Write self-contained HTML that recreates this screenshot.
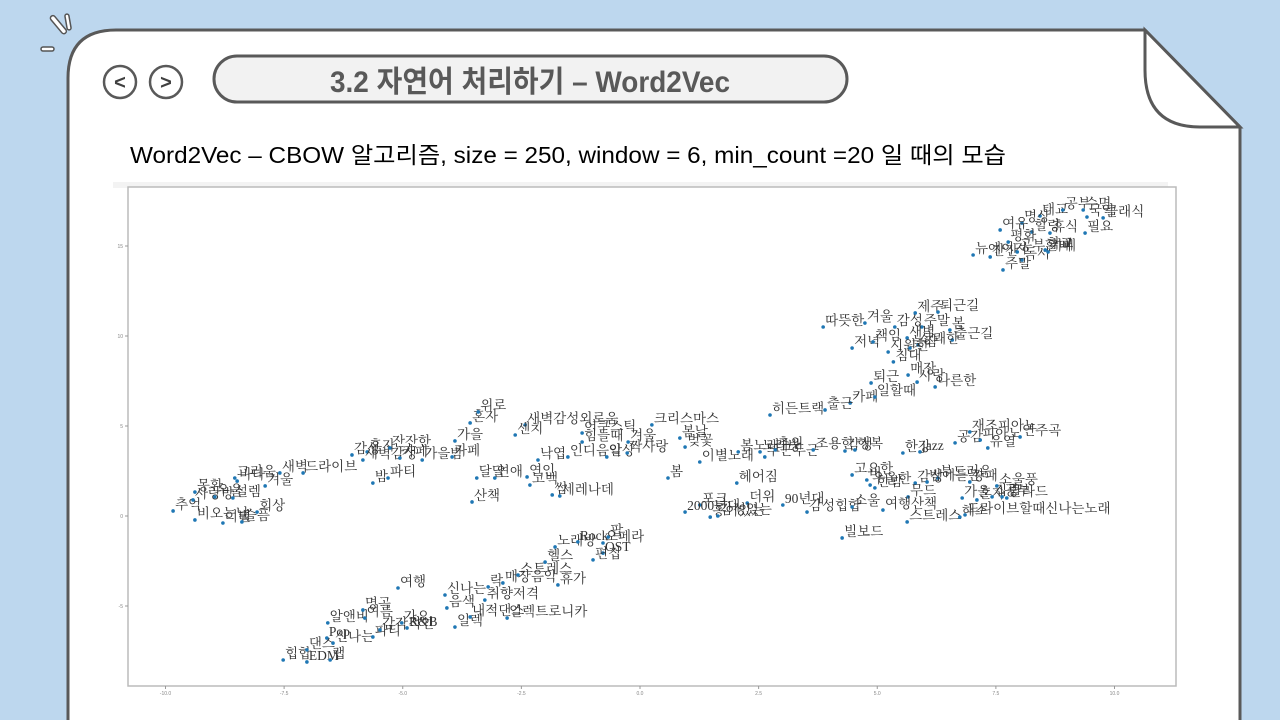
<!DOCTYPE html>
<html><head><meta charset="utf-8"><style>
html,body{margin:0;padding:0;background:#bdd7ee;}
svg{display:block;}
</style></head><body>
<svg id="slide" width="1280" height="720" viewBox="0 0 1280 720" xmlns="http://www.w3.org/2000/svg">
  <rect x="0" y="0" width="1280" height="720" fill="#bdd7ee"/>
  <g fill="#fff" stroke="#555" stroke-width="1.5">
    <rect x="56" y="14" width="5" height="22" rx="2.5" transform="rotate(-40 58 25)"/>
    <rect x="66" y="14" width="4" height="16" rx="2" transform="rotate(-10 68 22)"/>
    <rect x="41" y="47" width="13" height="4" rx="2"/>
  </g>
  <path d="M68,730 L68,78 Q68,30 116,30 L1145,30 L1240,127 L1240,730 Z" fill="#fff" stroke="#595959" stroke-width="3"/>
  <path d="M1145,30 L1145,70 Q1145,127 1200,127 L1240,127 Z" fill="#fff" stroke="#595959" stroke-width="3"/>
  <g>
    <circle cx="120" cy="82" r="16" fill="#fff" stroke="#595959" stroke-width="2.5"/>
    <text x="120" y="89" text-anchor="middle" font-family="Liberation Sans, sans-serif" font-size="20" font-weight="bold" fill="#404040">&lt;</text>
  </g>
  <g>
    <circle cx="166" cy="82" r="16" fill="#fff" stroke="#595959" stroke-width="2.5"/>
    <text x="166" y="89" text-anchor="middle" font-family="Liberation Sans, sans-serif" font-size="20" font-weight="bold" fill="#404040">&gt;</text>
  </g>
  <rect x="214" y="56" width="633" height="46" rx="23" fill="#f2f2f2" stroke="#595959" stroke-width="3"/>
  <text x="330" y="92" textLength="400" lengthAdjust="spacingAndGlyphs" font-family="Liberation Sans, 'Noto Sans CJK KR', sans-serif" font-size="30" font-weight="bold" fill="#595959">3.2 자연어 처리하기 – Word2Vec</text>
  <text x="130" y="163" textLength="876" lengthAdjust="spacingAndGlyphs" font-family="Liberation Sans, 'Noto Sans CJK KR', sans-serif" font-size="23" fill="#000">Word2Vec – CBOW 알고리즘, size = 250, window = 6, min_count =20 일 때의 모습</text>
  <rect x="113" y="182" width="1055" height="6" fill="#f3f3f3"/>
  <rect x="128" y="187" width="1048" height="499" fill="#fff" stroke="#bbb" stroke-width="1.5"/>
  <g id="axes"></g>
  <g id="marks"></g>
</svg>
<script>
const words = ["태교","공부","수면","명상","국악","클래식","여유","힐링","휴식","필요","평화","뉴에이지","잔잔","공부할때","독서","학교","카페","주말",
"따뜻한","겨울","감성","제주","퇴근길","주말","봄","출근길","저녁","책임","새벽","상쾌한","시원한","침대","늦잠","매장","사랑","퇴근","나른한","카페","일할때","출근","히든트랙",
"추억","몽환","사랑방","비오는날","우울","설렘","이별","슬픔","회상","그리움","바다","겨울","새벽","드라이브","감성","혼자","새벽감성","잔잔한","카페","가을밤","밤","파티",
"혼자","위로","새벽감성외로움","센치","가을","카페","달달","연애","연인","고백","산책","낙엽","인디음악","어쿠스틱","힘들때","일상","짝사랑","겨울","크리스마스","봄날","벚꽃","이별노래","봄","썸","세레나데",
"봄노래","헤어짐","두근두근","노래방","추위","조용한","감성","행복","한강","jazz","공감","재즈피아노","피아노","유열","연주곡",
"고요한","비","우울한","한밤","감성","부드러운","깡패","밤에듣는","무드","가을","혼자","집중","공부","발라드","소울풍",
"더위","90년대","감성힙합","소울","여행산책","스트레스","해소","드라이브할때신나는노래","빌보드","포크","2000년대","흥이있는","감성있는",
"힙합","EDM","랩","댄스","신나는","Pop","파티","알앤비","여름","명곡","가요","R&B","감각적인","여행","신나는","음색","일렉","내적댄스","락","매장음악","취향저격","일렉트로니카","헬스","스트레스","휴가","노래방","Rock","팝","오페라","OST","편집"];
const xs = [8.43,8.91,9.34,8.05,9.42,9.76,7.59,8.26,8.64,9.38,7.76,7.02,7.38,7.95,8.05,8.54,8.6,7.65,
3.86,4.74,5.37,5.80,6.28,5.94,6.53,6.58,4.47,4.91,5.63,5.86,5.23,5.34,5.69,5.65,5.84,4.87,6.22,4.43,4.95,3.90,2.74,
-9.84,-9.38,-9.42,-9.38,-8.96,-8.58,-8.79,-8.39,-8.07,-8.54,-8.49,-7.90,-7.59,-7.10,-6.07,-5.75,-5.84,-5.27,-5.06,-4.59,-5.63,-5.31,
-3.58,-3.41,-2.42,-2.63,-3.90,-3.96,-3.44,-3.06,-2.38,-2.32,-3.54,-2.15,-1.52,-1.22,-1.22,-0.70,-0.27,-0.25,0.25,0.84,0.95,1.26,0.59,-1.85,-1.69,
2.07,2.04,2.63,2.53,2.85,3.65,4.32,4.53,5.54,5.90,6.64,6.95,7.17,7.33,8.01,
4.47,4.78,4.85,4.95,5.80,6.28,6.95,6.05,5.65,6.79,7.10,7.42,7.63,7.73,7.52,
2.26,3.01,3.52,4.47,5.12,5.63,6.74,6.85,4.26,1.26,0.95,1.48,1.64,
-7.52,-7.02,-6.53,-7.02,-6.47,-6.60,-5.63,-6.58,-5.80,-5.84,-5.02,-4.91,-5.48,-5.10,-4.11,-4.07,-3.90,-3.58,-3.20,-2.89,-3.27,-2.80,-2.0,-2.57,-1.73,-1.79,-1.31,-0.67,-0.78,-0.78,-0.99];
const ys = [16.67,17.0,17.0,16.28,16.61,16.56,15.89,15.78,15.72,15.72,15.22,14.5,14.39,14.67,14.22,14.78,14.67,13.67,
10.5,10.72,10.5,11.28,11.33,10.5,10.33,9.78,9.33,9.67,9.89,9.5,9.11,8.56,9.33,7.83,7.44,7.39,7.17,6.28,6.61,5.89,5.61,
0.28,1.33,0.89,-0.22,1.06,1.0,-0.39,-0.33,0.22,2.11,1.94,1.67,2.39,2.39,3.39,3.56,3.11,3.78,3.22,3.11,1.83,2.11,
5.17,5.78,5.06,4.5,4.17,3.28,2.11,2.11,2.17,1.72,0.78,3.11,3.28,4.61,4.11,3.28,3.5,4.11,5.06,4.33,3.83,3.0,2.11,1.17,1.11,
3.56,1.83,3.28,3.56,3.67,3.67,3.61,3.67,3.5,3.56,4.06,4.67,4.22,3.78,4.39,
2.28,2.0,1.72,1.56,1.83,2.11,1.89,1.89,1.06,1.0,0.89,1.06,1.06,1.0,1.67,
0.72,0.61,0.22,0.5,0.33,-0.33,-0.06,0.06,-1.22,0.61,0.22,-0.06,0.0,
-8.0,-8.11,-8.0,-7.44,-7.06,-6.78,-6.72,-5.94,-5.67,-5.22,-5.94,-6.22,-6.33,-4.0,-4.39,-5.11,-6.17,-5.61,-3.94,-3.72,-4.67,-5.67,-2.56,-3.28,-3.83,-1.72,-1.44,-1.17,-1.5,-2.06,-2.44];
const xTicks = [-10,-7.5,-5,-2.5,0,2.5,5,7.5,10];
const xTickLabels = ["-10.0","-7.5","-5.0","-2.5","0.0","2.5","5.0","7.5","10.0"];
const yTicks = [-5,0,5,10,15];
const yTickLabels = ["-5","0","5","10","15"];

const NS = "http://www.w3.org/2000/svg";
function sx(v){ return 640 + v*47.45; }
function sy(v){ return 516 - v*18; }
function mk(tag, attrs){ const e=document.createElementNS(NS,tag); for(const k in attrs) e.setAttribute(k,attrs[k]); return e; }

const axes = document.getElementById('axes');
xTicks.forEach((t,i)=>{
  const g = mk('g',{});
  
  
  g.appendChild(mk('line',{x1:sx(t),x2:sx(t),y1:686,y2:689,stroke:'#999','stroke-width':1}));
  const tx = mk('text',{x:sx(t),y:695,'text-anchor':'middle','font-size':5,'font-family':'Liberation Sans, sans-serif',fill:'#888'});
  tx.textContent = xTickLabels[i];
  g.appendChild(tx);
  axes.appendChild(g);
});
yTicks.forEach((t,i)=>{
  const g = mk('g',{});
  
  
  g.appendChild(mk('line',{x1:125,x2:128,y1:sy(t),y2:sy(t),stroke:'#999','stroke-width':1}));
  const tx = mk('text',{x:123,y:sy(t)+2,'text-anchor':'end','font-size':5,'font-family':'Liberation Sans, sans-serif',fill:'#888'});
  tx.textContent = yTickLabels[i];
  g.appendChild(tx);
  axes.appendChild(g);
});

const marks = document.getElementById('marks');
words.forEach((w,i)=>{
  const g = mk('g',{});
  
  
  const px = sx(xs[i]), py = sy(ys[i]);
  g.appendChild(mk('circle',{cx:px,cy:py,r:1.8,fill:'#1f77b4'}));
  const tx = mk('text',{x:px+2,y:py-2,'font-size':13.5,'font-family':"'Liberation Serif','Noto Serif CJK SC','Noto Sans CJK KR',serif",fill:'#333'});
  tx.textContent = w;
  g.appendChild(tx);
  marks.appendChild(g);
});
</script>
</body></html>
